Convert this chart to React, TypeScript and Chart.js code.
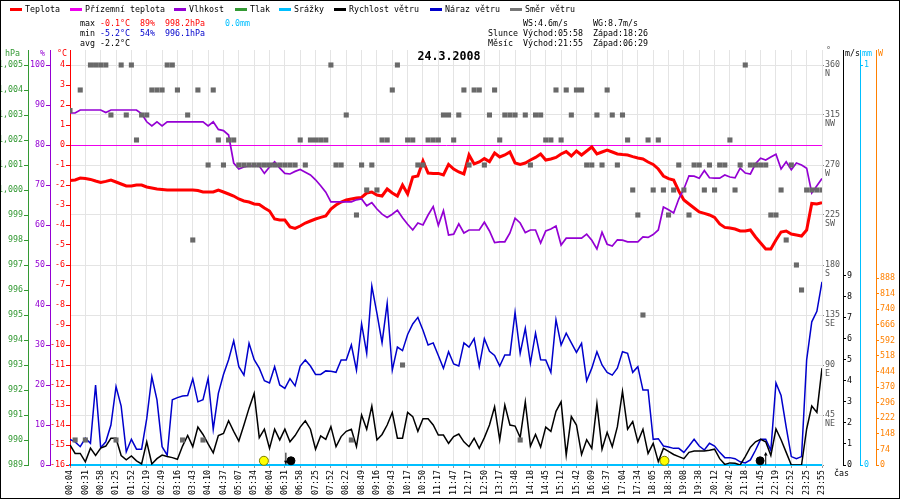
import React, { useEffect, useRef } from 'react';
import { Chart, registerables } from 'chart.js';
Chart.register(...registerables);

// ---------- data ----------
const timeLabels = ['00:04','00:31','00:58','01:25','01:52','02:19','02:49','03:16','03:43','04:10',
  '04:37','05:07','05:34','06:04','06:31','06:58','07:25','07:52','08:22','08:49',
  '09:16','09:43','10:17','10:50','11:17','11:47','12:17','12:50','13:17','13:48',
  '14:18','14:45','15:12','15:42','16:09','16:37','17:04','17:34','18:05','18:38',
  '19:08','19:38','20:12','20:42','21:18','21:45','22:19','22:52','23:25','23:55'];

const temperature = [-1.78,-1.75,-1.65,-1.68,-1.72,-1.8,-1.87,-1.82,-1.75,-1.85,
  -1.95,-2.05,-2.05,-2.0,-2.0,-2.1,-2.15,-2.2,-2.22,-2.25,
  -2.25,-2.25,-2.25,-2.25,-2.25,-2.28,-2.35,-2.35,-2.35,-2.25,
  -2.35,-2.45,-2.55,-2.7,-2.8,-2.85,-2.95,-2.97,-3.15,-3.3,
  -3.7,-3.75,-3.75,-4.1,-4.17,-4.05,-3.9,-3.8,-3.7,-3.62,
  -3.55,-3.2,-3.0,-2.85,-2.75,-2.7,-2.65,-2.62,-2.4,-2.35,
  -2.5,-2.55,-2.2,-2.4,-2.55,-2.0,-2.45,-1.6,-1.55,-0.8,
  -1.4,-1.42,-1.42,-1.5,-0.97,-1.2,-1.35,-1.45,-0.5,-0.95,
  -0.85,-0.68,-0.83,-0.4,-0.6,-0.5,-0.35,-0.9,-0.97,-0.9,
  -0.75,-0.62,-0.45,-0.75,-0.7,-0.62,-0.45,-0.33,-0.55,-0.3,
  -0.5,-0.3,-0.1,-0.45,-0.35,-0.25,-0.35,-0.45,-0.48,-0.5,
  -0.58,-0.65,-0.7,-0.85,-0.97,-1.2,-1.55,-1.68,-1.75,-2.3,
  -2.75,-2.95,-3.15,-3.35,-3.42,-3.5,-3.62,-3.95,-4.12,-4.15,
  -4.2,-4.3,-4.3,-4.25,-4.6,-4.9,-5.2,-5.2,-4.75,-4.35,
  -4.3,-4.45,-4.5,-4.55,-4.25,-2.92,-2.95,-2.88];

const humidity = [88.0,88.0,88.75,88.75,88.75,88.75,88.75,88.1,88.75,88.75,
  88.75,88.75,88.75,88.75,87.8,85.8,84.75,85.8,84.8,85.8,
  85.8,85.8,85.8,85.8,85.8,85.8,85.8,84.8,85.8,83.9,
  83.6,82.5,75.5,74.0,74.5,74.75,74.75,74.75,72.9,74.5,
  75.8,74.2,72.9,72.75,73.4,73.9,73.2,72.5,71.3,69.8,
  68.2,65.8,65.8,65.8,65.8,65.8,66.3,66.5,64.8,65.6,
  64.0,62.7,61.9,62.7,63.7,61.8,60.2,58.75,60.5,60.0,
  62.5,64.6,59.9,63.6,57.5,57.7,60.3,58.0,58.75,58.75,
  58.75,60.7,58.5,55.6,55.8,55.8,58.0,61.7,60.5,58.1,
  58.75,58.75,55.5,58.5,59.0,59.75,55.0,56.7,56.7,56.7,
  56.7,57.7,56.2,54.0,58.2,55.2,54.75,56.3,56.2,55.8,
  55.8,55.8,57.0,56.9,57.6,58.75,64.5,63.8,63.0,66.5,
  69.0,72.3,72.2,71.7,73.6,71.8,71.7,71.7,72.5,72.0,
  71.8,74.2,73.0,72.75,75.3,76.7,76.25,77.0,77.7,74.0,
  75.8,73.8,75.5,75.0,74.2,68.0,69.8,71.6];

const windSpeed = [0.95,0.55,0.55,0.15,0.8,0.45,0.8,0.9,1.27,1.27,
  0.45,0.25,0.43,0.2,0.05,1.1,0.05,0.3,0.47,0.4,
  0.35,0.27,0.9,1.4,0.87,1.8,1.45,1.0,0.58,1.4,
  1.5,2.1,1.6,1.14,1.9,2.7,3.4,1.3,1.7,0.79,
  1.7,1.19,1.7,1.1,1.4,1.8,2.1,1.7,0.75,1.38,
  1.22,1.82,0.87,1.35,1.6,1.7,0.87,2.38,1.7,2.8,
  1.19,1.45,1.9,2.49,1.27,1.27,2.5,2.3,1.6,2.2,
  2.2,1.9,1.42,1.42,1.03,1.35,1.47,1.1,0.87,1.27,
  0.79,1.3,1.9,2.77,1.19,2.85,1.9,1.85,1.3,3.0,
  0.9,1.45,0.85,1.8,1.6,2.55,3.0,0.47,2.3,1.9,
  0.5,1.2,0.79,2.9,0.75,1.55,0.87,1.82,3.5,1.7,
  2.06,1.1,1.7,0.55,1.03,0.16,0.79,0.65,0.5,0.4,
  0.3,0.6,0.66,0.66,0.66,0.7,0.75,0.3,0.03,0.1,
  0.08,0,0.4,0.85,1.1,1.22,1.1,0.45,1.71,1.2,
  0.6,0,0,0,1.71,2.8,2.5,4.6];

const windGust = [1.22,1.1,0.87,1.27,1.03,3.8,0.82,1.1,1.9,3.72,
  2.8,0.63,1.22,0.75,0.75,2.2,4.19,3.09,0.87,0.47,
  3.1,3.2,3.28,3.3,4.09,3.0,3.1,4.12,1.7,3.4,
  4.3,5.0,5.9,4.67,4.27,5.78,5.0,4.6,4.0,3.9,
  4.67,3.8,3.64,4.1,3.76,4.7,4.99,4.7,4.3,4.3,
  4.47,4.45,4.4,4.99,4.99,5.7,4.5,6.7,5.3,8.5,
  7.2,5.81,7.68,4.5,5.6,5.43,6.2,6.7,7.01,6.4,
  5.7,5.8,5.2,4.59,5.38,4.8,4.7,5.8,5.6,6.0,
  4.67,6.0,5.4,5.2,4.7,5.23,5.23,7.25,5.3,6.49,
  4.83,6.26,5.0,4.99,4.4,6.9,5.7,6.26,5.8,5.35,
  5.78,4.0,4.6,5.38,4.75,4.4,4.27,4.6,5.38,5.3,
  4.4,4.67,3.56,3.56,1.22,1.25,0.9,0.85,0.79,0.79,
  0.6,0.9,1.22,0.9,0.71,1.03,0.9,0.6,0.35,0.35,
  0.3,0.15,0.1,0.24,0.7,1.22,1.22,0.7,3.9,3.3,
  1.8,0.4,0.3,0.4,4.99,6.8,7.3,8.7];

const windDir = [319,22.5,337.5,22.5,360,360,360,360,315,22.5,
  360,315,360,292.5,315,315,337.5,337.5,337.5,360,
  360,337.5,22.5,315,202.5,337.5,22.5,270,337.5,292.5,
  270,292.5,292.5,270,270,270,270,270,270,270,
  270,270,270,270,270,292.5,270,292.5,292.5,292.5,
  292.5,360,270,270,315,22.5,225,270,247.5,270,
  247.5,292.5,292.5,337.5,360,90,292.5,292.5,270,270,
  292.5,292.5,292.5,315,315,292.5,315,337.5,270,337.5,
  337.5,270,315,337.5,292.5,315,315,315,22.5,315,
  270,315,315,292.5,292.5,337.5,292.5,337.5,315,337.5,
  337.5,270,270,315,270,337.5,315,270,315,292.5,
  247.5,225,135,292.5,247.5,292.5,247.5,225,247.5,270,
  247.5,225,270,270,247.5,270,247.5,270,270,292.5,
  247.5,270,360,270,270,270,270,225,225,247.5,
  202.5,270,180,157.5,247.5,247.5,247.5,247.5];

// sun / moon event positions (sample index along the x axis)
const sunEvents = [37.9, 116.2];
const moonDots = [43.2, 134.9];
const moonSetArrow = [42.2];
const moonRiseArrow = [136.0];

// tick values / labels
const tempTicks = [-16,-15,-14,-13,-12,-11,-10,-9,-8,-7,-6,-5,-4,-3,-2,-1,0,1,2,3,4];
const humTicks = [0,10,20,30,40,50,60,70,80,90,100];
const pressTicks = [989,990,991,992,993,994,995,996,997,998,999,1000,1001,1002,1003,1004,1005];
const dirTicks = [0,45,90,135,180,225,270,315,360];
const dirNames = ['','NE','E','SE','S','SW','W','NW','N'];
const windTicks = [0,1,2,3,4,5,6,7,8,9];
const rainTicks = [0,1];
const solarTicks = [0,74,148,222,296,370,444,518,592,666,740,814,888];

const legendItems = [
  { label: 'Teplota', color: '#ff0000' },
  { label: 'Přízemní teplota', color: '#ee00ee' },
  { label: 'Vlhkost', color: '#9400d3' },
  { label: 'Tlak', color: '#339933' },
  { label: 'Srážky', color: '#00bfff' },
  { label: 'Rychlost větru', color: '#000000' },
  { label: 'Náraz větru', color: '#0000cc' },
  { label: 'Směr větru', color: '#777777' },
];

// ---------- styling ----------
const RED = '#ff0000', PURPLE = '#9400d3', GREEN = '#339933', CYAN = '#00bfff',
  BLUE = '#0000cc', ORANGE = '#ff8000', GRID = '#e4e4e4';
const MONO = "'DejaVu Sans Mono', monospace";
const tickFont = { family: MONO, size: 8.3 };

const pts = (arr: number[]) => arr.map((v, i) => ({ x: i, y: v }));
const setTicks = (vals: number[]) => (scale: any) => { scale.ticks = vals.map((v) => ({ value: v })); };
const fixW = (w: number) => (scale: any) => { scale.width = w; };

const legendX = [10, 70, 174, 235, 279, 334, 430, 510];

const headerPlugin = {
  id: 'headerTexts',
  afterDraw(chart: any) {
    const ctx = chart.ctx as CanvasRenderingContext2D;
    ctx.save();
    ctx.font = `8.3px ${MONO}`;
    ctx.textBaseline = 'middle';
    ctx.textAlign = 'left';
    legendItems.forEach((it, k) => {
      const x = legendX[k];
      ctx.strokeStyle = it.color;
      ctx.lineWidth = 3;
      ctx.beginPath();
      ctx.moveTo(x, 9.5);
      ctx.lineTo(x + 12, 9.5);
      ctx.stroke();
      ctx.fillStyle = '#000';
      ctx.fillText(it.label, x + 15, 9.5);
    });
    const texts: [string, string, number, number][] = [
      ['max', '#000', 80, 24], ['-0.1°C', RED, 100, 24], ['89%', RED, 140, 24], ['998.2hPa', RED, 165, 24], ['0.0mm', CYAN, 225, 24],
      ['min', '#000', 80, 34], ['-5.2°C', BLUE, 100, 34], ['54%', BLUE, 140, 34], ['996.1hPa', BLUE, 165, 34],
      ['avg', '#000', 80, 44], ['-2.2°C', '#000', 100, 44],
      ['WS:4.6m/s', '#000', 523, 24], ['WG:8.7m/s', '#000', 593, 24],
      ['Slunce', '#000', 488, 34], ['Východ:05:58', '#000', 523, 34], ['Západ:18:26', '#000', 593, 34],
      ['Měsíc', '#000', 488, 44], ['Východ:21:55', '#000', 523, 44], ['Západ:06:29', '#000', 593, 44],
      ['hPa', GREEN, 5, 53.5], ['%', PURPLE, 40, 53.5], ['°C', RED, 57, 53.5],
      ['°', '#555', 826, 51], ['m/s', '#000', 845, 53.5], ['mm', CYAN, 862, 53.5], ['W', ORANGE, 878, 53.5],
      ['čas', '#000', 834, 474],
    ];
    texts.forEach(([t, c, x, y]) => { ctx.fillStyle = c; ctx.fillText(t, x, y); });
    ctx.font = `bold 11.6px ${MONO}`;
    ctx.textAlign = 'center';
    ctx.fillStyle = '#000';
    ctx.fillText('24.3.2008', 449, 57);
    ctx.strokeStyle = '#000';
    ctx.lineWidth = 1;
    ctx.strokeRect(0.5, 0.5, 899, 498);
    ctx.restore();
  },
};

export default function App() {
  const ref = useRef<HTMLCanvasElement>(null);
  useEffect(() => {
    if (!ref.current) return;
    const lineDs = (label: string, data: number[], color: string, width: number, axis: string) => ({
      label, data: pts(data), yAxisID: axis, borderColor: color, backgroundColor: color,
      borderWidth: width, pointRadius: 0, tension: 0, fill: false,
    });
    const chart = new Chart(ref.current, {
      type: 'line',
      data: {
        datasets: [
          {
            label: 'Směr větru', data: pts(windDir), yAxisID: 'dir', showLine: false,
            pointStyle: 'rect', pointRadius: 3.6, pointBackgroundColor: '#696969', pointBorderWidth: 0,
            borderColor: '#696969',
          },
          lineDs('Vlhkost', humidity, PURPLE, 1.7, 'hum'),
          lineDs('Teplota', temperature, RED, 3, 'temp'),
          lineDs('Rychlost větru', windSpeed, '#000000', 1.5, 'wind'),
          lineDs('Náraz větru', windGust, BLUE, 1.5, 'wind'),
          {
            label: 'sun', data: sunEvents.map((x) => ({ x, y: 0.2 })), yAxisID: 'wind', showLine: false, clip: false,
            pointStyle: 'circle', pointRadius: 4.5, pointBackgroundColor: '#ffff00', pointBorderColor: '#7a7a00', pointBorderWidth: 1,
          },
          {
            label: 'moon', data: moonDots.map((x) => ({ x, y: 0.2 })), yAxisID: 'wind', showLine: false, clip: false,
            pointStyle: 'circle', pointRadius: 4, pointBackgroundColor: '#000', pointBorderColor: '#000', pointBorderWidth: 1,
          },
          {
            label: 'moonArrows', data: moonSetArrow.concat(moonRiseArrow).map((x) => ({ x, y: 0.3 })), yAxisID: 'wind', showLine: false, clip: false,
            pointStyle: 'line', pointRotation: 90, pointRadius: 6, pointBorderColor: '#000', pointBorderWidth: 1,
          },
          {
            label: 'moonSetHead', data: moonSetArrow.map((x) => ({ x, y: 0.15 })), yAxisID: 'wind', showLine: false, clip: false,
            pointStyle: 'triangle', pointRotation: 180, pointRadius: 2.2, pointBackgroundColor: '#000', pointBorderColor: '#000', pointBorderWidth: 0,
          },
          {
            label: 'moonRiseHead', data: moonRiseArrow.map((x) => ({ x, y: 0.5 })), yAxisID: 'wind', showLine: false, clip: false,
            pointStyle: 'triangle', pointRotation: 0, pointRadius: 2.2, pointBackgroundColor: '#000', pointBorderColor: '#000', pointBorderWidth: 0,
          },
        ] as any,
      },
      options: {
        responsive: false,
        animation: false,
        devicePixelRatio: 1,
        events: [],
        layout: { padding: { top: 50, right: 2, bottom: 0, left: 0 } },
        plugins: { legend: { display: false }, tooltip: { enabled: false }, title: { display: false } },
        scales: {
          x: {
            type: 'linear', position: 'bottom', min: 0, max: 147,
            afterBuildTicks: setTicks(timeLabels.map((_, k) => k * 3)),
            afterFit: (s: any) => { s.height = 35; },
            ticks: { autoSkip: false, minRotation: 90, maxRotation: 90, padding: 2, font: tickFont, color: '#000',
              callback: (_v: any, i: number) => timeLabels[i] },
            grid: { color: GRID, tickColor: '#999', tickLength: 3 },
            border: { color: CYAN, width: 2 },
          },
          temp: {
            type: 'linear', position: 'left', weight: 0, min: -16, max: 4.75,
            afterBuildTicks: setTicks(tempTicks), afterFit: fixW(20),
            ticks: { autoSkip: false, color: RED, font: tickFont, padding: 1 },
            grid: { drawOnChartArea: true, color: (c: any) => (c.tick && c.tick.value === 0 ? '#ee00ee' : 'rgba(0,0,0,0)'), tickColor: RED, tickLength: 4 },
            border: { color: RED, width: 1 },
          },
          hum: {
            type: 'linear', position: 'left', weight: 1, min: 0, max: 103.75,
            afterBuildTicks: setTicks(humTicks), afterFit: fixW(22),
            ticks: { autoSkip: false, color: PURPLE, font: tickFont, padding: 1 },
            grid: { drawOnChartArea: false, color: PURPLE, tickColor: PURPLE, tickLength: 4 },
            border: { color: PURPLE, width: 1 },
          },
          press: {
            type: 'linear', position: 'left', weight: 2, min: 989, max: 1005.6,
            afterBuildTicks: setTicks(pressTicks), afterFit: fixW(28),
            ticks: { autoSkip: false, color: GREEN, font: tickFont, padding: 1 },
            grid: { drawOnChartArea: false, color: GREEN, tickColor: GREEN, tickLength: 4 },
            border: { color: GREEN, width: 1 },
          },
          dir: {
            type: 'linear', position: 'right', weight: 0, min: 0, max: 373.5,
            afterBuildTicks: setTicks(dirTicks), afterFit: fixW(21),
            ticks: { autoSkip: false, color: '#555', font: { family: MONO, size: 8.3, lineHeight: 1.05 }, padding: 1, labelOffset: 4.3,
              callback: (v: any) => (v === 0 ? '' : [String(v), dirNames[dirTicks.indexOf(v)]]) },
            grid: { drawOnChartArea: true, color: GRID, tickColor: '#888', tickLength: 2 },
            border: { color: GRID, width: 1 },
          },
          wind: {
            type: 'linear', position: 'right', weight: 1, min: 0, max: 19.71,
            afterBuildTicks: setTicks(windTicks), afterFit: fixW(17),
            ticks: { autoSkip: false, color: '#000', font: tickFont, padding: 1 },
            grid: { drawOnChartArea: false, color: '#000', tickColor: '#000', tickLength: 3 },
            border: { color: '#000', width: 1 },
          },
          rain: {
            type: 'linear', position: 'right', weight: 2, min: 0, max: 1.0375,
            afterBuildTicks: setTicks(rainTicks), afterFit: fixW(16),
            ticks: { autoSkip: false, color: CYAN, font: tickFont, padding: 1 },
            grid: { drawOnChartArea: false, color: CYAN, tickColor: CYAN, tickLength: 3 },
            border: { color: CYAN, width: 1 },
          },
          solar: {
            type: 'linear', position: 'right', weight: 3, min: 0, max: 1971,
            afterBuildTicks: setTicks(solarTicks), afterFit: fixW(22),
            ticks: { autoSkip: false, color: ORANGE, font: tickFont, padding: 1 },
            grid: { drawOnChartArea: false, color: ORANGE, tickColor: ORANGE, tickLength: 3 },
            border: { color: ORANGE, width: 1 },
          },
        } as any,
      },
      plugins: [headerPlugin],
    });
    return () => chart.destroy();
  }, []);
  return (
    <div style={{ position: 'fixed', left: 0, top: 0, width: 900, height: 500, background: '#fff' }}>
      <canvas ref={ref} width={900} height={500} style={{ width: 900, height: 500, display: 'block' }} />
    </div>
  );
}
